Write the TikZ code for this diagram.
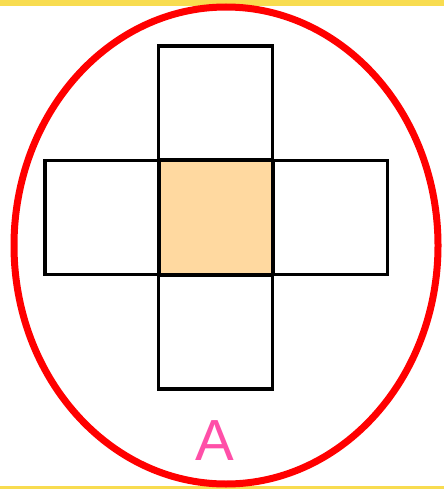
\documentclass[tikz,border=0pt]{standalone}
\usepackage{fontspec}
\setmainfont{Liberation Sans}
\definecolor{bandyellow}{HTML}{F8DC50}
\definecolor{centerfill}{HTML}{FFD9A0}
\definecolor{letterpink}{HTML}{FF4FA8}
\tikzset{
  cell/.style={draw=black, line width=3.5pt, minimum size=114pt, inner sep=0pt, outer sep=0pt},
  band/.style={fill=bandyellow, draw=none},
  ring/.style={draw=red, line width=7pt}
}
\begin{document}
\begin{tikzpicture}[x=1pt,y=-1pt]
\useasboundingbox (0,0) rectangle (444,489);
\fill[white] (0,0) rectangle (444,489);
\fill[band] (0,0) rectangle (444,6);
\fill[band] (0,486) rectangle (444,489);
\draw[ring] (226,245.5) ellipse [x radius=212, y radius=238.5];
\node[cell, fill=centerfill] (c) at (215.5,217.5) {};
\node[cell] (t) at (215.5,103) {};
\node[cell] (l) at (102,217.5) {};
\node[cell] (r) at (330.5,217.5) {};
\node[cell] (b) at (215.5,332) {};
\node[text=letterpink, font=\fontsize{58}{58}\selectfont, inner sep=0pt] (a) at (215,441) {A};
\end{tikzpicture}
\end{document}
